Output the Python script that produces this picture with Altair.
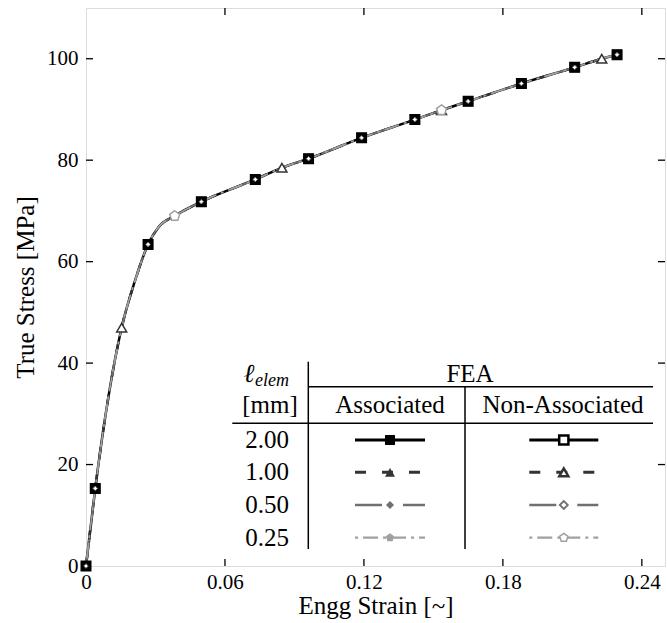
import altair as alt
import pandas as pd

# ---------------- data ----------------
curve_strain = [0.0, 0.004, 0.0154, 0.021, 0.0268, 0.0315, 0.0383, 0.0498, 0.0731,
                0.0846, 0.0961, 0.119, 0.142, 0.1535, 0.165, 0.188, 0.211, 0.2227, 0.2293]
curve_stress = [0.0, 15.3, 47.0, 56.0, 63.4, 66.9, 69.0, 71.8, 76.2,
                78.5, 80.3, 84.4, 88.0, 89.85, 91.6, 95.1, 98.3, 100.0, 100.8]

square_strain = [0.0, 0.004, 0.0268, 0.0498, 0.0731, 0.0961, 0.119, 0.142, 0.165, 0.188, 0.211, 0.2293]
square_stress = [0.0, 15.3, 63.4, 71.8, 76.2, 80.3, 84.4, 88.0, 91.6, 95.1, 98.3, 100.8]
triangle_strain = [0.0154, 0.0846, 0.1535, 0.2227]
triangle_stress = [47.0, 78.5, 89.85, 100.0]
diamond_strain = square_strain
diamond_stress = square_stress
pentagon_strain = [0.0383, 0.1535]
pentagon_stress = [69.0, 89.85]

elem_sizes = ["2.00", "1.00", "0.50", "0.25"]
x_tick_values = [0.0, 0.06, 0.12, 0.18, 0.24]
y_tick_values = [0, 20, 40, 60, 80, 100]
x_inner_ticks = [0.06, 0.12, 0.18, 0.24]
y_inner_ticks = [20, 40, 60, 80, 100]

# ---------------- styling ----------------
FONT = "Liberation Serif"
W, H = 579, 558
PENTAGON = "M0,-1L0.951,-0.309L0.588,0.809L-0.588,0.809L-0.951,-0.309Z"

series = [
    dict(name="2.00", color="#000000", dash=None, lw=2.5, shape="square",
         xs=square_strain, ys=square_stress),
    dict(name="1.00", color="#333333", dash=[11, 16], lw=2.5, shape="triangle-up",
         xs=triangle_strain, ys=triangle_stress),
    dict(name="0.50", color="#707070", dash=[27, 21], lw=2.0, shape="diamond",
         xs=diamond_strain, ys=diamond_stress),
    dict(name="0.25", color="#a0a0a0", dash=[3, 5, 15, 5], lw=1.7, shape=PENTAGON,
         xs=pentagon_strain, ys=pentagon_stress),
]
plot_marker = {"2.00": (100, 81), "1.00": (100, 100), "0.50": (20, 20), "0.25": (110, 110)}
legend_marker = {"2.00": (100, 85, 2.5), "1.00": (100, 81, 2.5), "0.50": (64, 64, 1.8), "0.25": (77, 77, 1.5)}

xs = alt.Scale(domain=[0, 0.25], nice=False, zero=False)
ys = alt.Scale(domain=[0, 110], nice=False, zero=False)

x_axis = alt.Axis(values=x_tick_values, labelExpr="datum.value == 0 ? '0' : format(datum.value, '.2f')",
                  ticks=False, domain=False, grid=False, labelFlush=False, labelOverlap=False,
                  labelFont=FONT, labelFontSize=21, labelColor="black", labelPadding=5,
                  title="Engg Strain [~]", titleFont=FONT, titleFontSize=25, titleFontWeight="normal",
                  titleColor="black", titleX=W / 2, titleY=47, titleAlign="center",
                  titleBaseline="alphabetic")
y_axis = alt.Axis(values=y_tick_values, format="d", ticks=False, domain=False, grid=False,
                  labelFont=FONT, labelFontSize=21, labelColor="black", labelPadding=8,
                  labelOverlap=False,
                  title="True Stress [MPa]", titleFont=FONT, titleFontSize=25, titleFontWeight="normal",
                  titleColor="black", titleX=-52.5, titleY=H / 2, titleAlign="center",
                  titleBaseline="alphabetic")

curve_df = pd.DataFrame({"strain": curve_strain, "stress": curve_stress})

layers = []
# curves
for i, s in enumerate(series):
    kw = dict(color=s["color"], strokeWidth=s["lw"], interpolate="monotone", strokeCap="butt")
    if s["dash"]:
        kw["strokeDash"] = s["dash"]
    if i == 0:
        enc = dict(x=alt.X("strain:Q", scale=xs, axis=x_axis),
                   y=alt.Y("stress:Q", scale=ys, axis=y_axis))
    else:
        enc = dict(x=alt.X("strain:Q", scale=xs), y=alt.Y("stress:Q", scale=ys))
    layers.append(alt.Chart(curve_df).mark_line(**kw).encode(**enc))

# markers: non-associated (open) and associated (filled)
def markers(s, filled, size, sw=1.5):
    df = pd.DataFrame({"strain": s["xs"], "stress": s["ys"]})
    if filled:
        m = alt.Chart(df).mark_point(shape=s["shape"], filled=True, fill=s["color"], size=size,
                                     opacity=1, strokeWidth=0)
    else:
        m = alt.Chart(df).mark_point(shape=s["shape"], filled=True, fill="white", stroke=s["color"],
                                     strokeWidth=sw, size=size, opacity=1)
    return m.encode(x=alt.X("strain:Q", scale=xs), y=alt.Y("stress:Q", scale=ys))

sq = series[0]
layers.append(markers(sq, False, plot_marker["2.00"][1], sw=2))
layers.append(markers(sq, True, plot_marker["2.00"][0]))
for s in series[1:]:
    fs, os_ = plot_marker[s["name"]]
    layers.append(markers(s, True, fs))
    layers.append(markers(s, False, os_, sw=1.5 if s["name"] != "0.50" else 1.0))

# inward ticks on all four sides
xt = pd.DataFrame({"v": x_inner_ticks})
yt = pd.DataFrame({"v": y_inner_ticks})
TL = 7
layers.append(alt.Chart(xt).mark_rule(color="black", strokeWidth=1.3).encode(
    x=alt.X("v:Q", scale=xs), y=alt.value(H), y2=alt.value(H - TL)))
layers.append(alt.Chart(xt).mark_rule(color="black", strokeWidth=1.3).encode(
    x=alt.X("v:Q", scale=xs), y=alt.value(0), y2=alt.value(TL)))
layers.append(alt.Chart(yt).mark_rule(color="black", strokeWidth=1.3).encode(
    y=alt.Y("v:Q", scale=ys), x=alt.value(0), x2=alt.value(TL)))
layers.append(alt.Chart(yt).mark_rule(color="black", strokeWidth=1.3).encode(
    y=alt.Y("v:Q", scale=ys), x=alt.value(W - TL), x2=alt.value(W)))

# ---------------- legend table ----------------
dummy = pd.DataFrame({"d": [0]})

def hrule(x1, x2, y, sw=1.5):
    return alt.Chart(dummy).mark_rule(color="black", strokeWidth=sw).encode(
        x=alt.value(x1), x2=alt.value(x2), y=alt.value(y))

def vrule(x, y1, y2, sw=1.5):
    return alt.Chart(dummy).mark_rule(color="black", strokeWidth=sw).encode(
        x=alt.value(x), y=alt.value(y1), y2=alt.value(y2))

def label(txt, x, y, size=25, align="center", style="normal"):
    return alt.Chart(dummy).mark_text(text=txt, font=FONT, fontSize=size, align=align,
                                      baseline="alphabetic", color="black", fontStyle=style).encode(
        x=alt.value(x), y=alt.value(y))

layers += [
    vrule(222.3, 353.7, 541),
    vrule(379, 378.7, 541),
    hrule(222.3, 567, 378.7),
    hrule(146.3, 567, 415.3),
    label("ℓ", 163, 374, size=26, style="italic"),
    label("elem", 169, 378, size=18, align="left", style="italic"),
    label("[mm]", 184, 405.3),
    label("FEA", 384, 374),
    label("Associated", 304, 405.3),
    label("Non-Associated", 477, 405.3),
]

row_base = [440.3, 472.0, 505.3, 537.7]
row_line = [432.0, 464.3, 497.0, 529.7]
for i, s in enumerate(series):
    layers.append(label(elem_sizes[i], 181, row_base[i]))
    fsz, osz, osw = legend_marker[s["name"]]
    for (x1, x2, xm, filled) in [(269, 339, 304, True), (443.3, 512.3, 477.8, False)]:
        kw = dict(color=s["color"], strokeWidth=s["lw"] + 0.5, strokeCap="butt")
        if s["dash"]:
            kw["strokeDash"] = s["dash"]
        layers.append(alt.Chart(dummy).mark_rule(**kw).encode(
            x=alt.value(x1), x2=alt.value(x2), y=alt.value(row_line[i])))
        if filled:
            mk = alt.Chart(dummy).mark_point(shape=s["shape"], filled=True, fill=s["color"],
                                             size=fsz, opacity=1, strokeWidth=0)
        else:
            mk = alt.Chart(dummy).mark_point(shape=s["shape"], filled=True, fill="white",
                                             stroke=s["color"], strokeWidth=osw, size=osz, opacity=1)
        layers.append(mk.encode(x=alt.value(xm), y=alt.value(row_line[i])))

chart = alt.layer(*layers).properties(
    width=W, height=H,
    autosize=alt.AutoSizeParams(type="none"),
    padding={"left": 86, "top": 8, "right": 2, "bottom": 57},
).configure_view(stroke="black", strokeWidth=1.6).configure(background="white")

chart.save("out.html", embed_options={"renderer": "svg", "actions": False})
